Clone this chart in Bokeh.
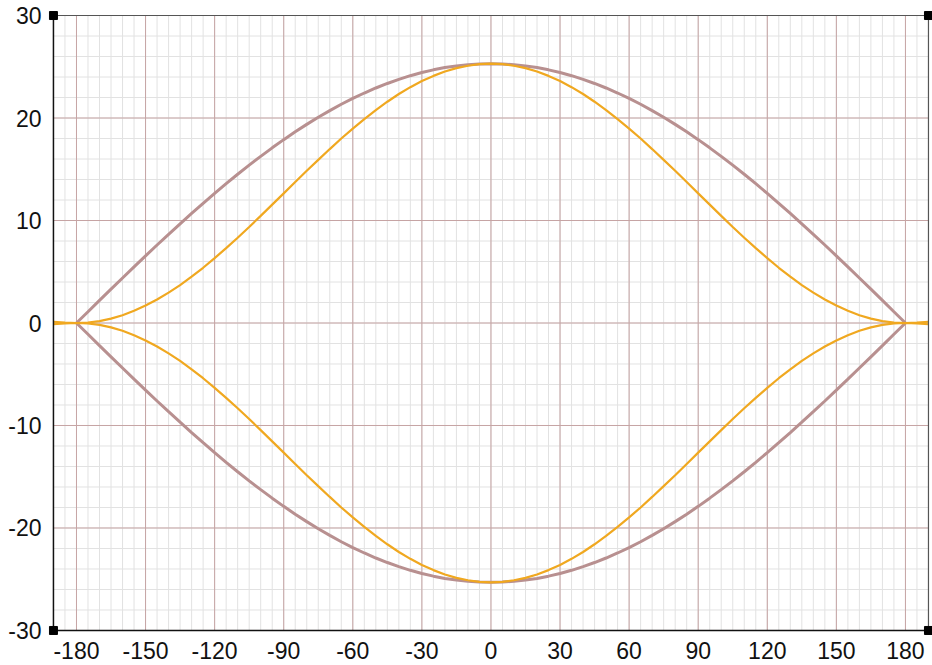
from bokeh.plotting import figure
from bokeh.models import SingleIntervalTicker, Range1d, PrintfTickFormatter
from bokeh.embed import file_html
from bokeh.resources import INLINE

# sample positions (degrees)
x_brown = list(range(-180, 185, 5))
x_orange = list(range(-190, 195, 5))

brown_upper = [0, 1.10, 2.21, 3.30, 4.39, 5.48, 6.55, 7.61, 8.65, 9.68, 10.69, 11.68, 12.65, 13.59, 14.51, 15.40,
               16.26, 17.09, 17.89, 18.65, 19.38, 20.07, 20.72, 21.34, 21.91, 22.44, 22.93, 23.37, 23.77, 24.13,
               24.44, 24.70, 24.92, 25.08, 25.20, 25.28, 25.30,
               25.28, 25.20, 25.08, 24.92, 24.70, 24.44, 24.13, 23.77, 23.37, 22.93, 22.44, 21.91, 21.34, 20.72,
               20.07, 19.38, 18.65, 17.89, 17.09, 16.26, 15.40, 14.51, 13.59, 12.65, 11.68, 10.69, 9.68, 8.65,
               7.61, 6.55, 5.48, 4.39, 3.30, 2.21, 1.10, 0]
brown_lower = [0, -1.10, -2.21, -3.30, -4.39, -5.48, -6.55, -7.61, -8.65, -9.68, -10.69, -11.68, -12.65, -13.59,
               -14.51, -15.40, -16.26, -17.09, -17.89, -18.65, -19.38, -20.07, -20.72, -21.34, -21.91, -22.44,
               -22.93, -23.37, -23.77, -24.13, -24.44, -24.70, -24.92, -25.08, -25.20, -25.28, -25.30,
               -25.28, -25.20, -25.08, -24.92, -24.70, -24.44, -24.13, -23.77, -23.37, -22.93, -22.44, -21.91,
               -21.34, -20.72, -20.07, -19.38, -18.65, -17.89, -17.09, -16.26, -15.40, -14.51, -13.59, -12.65,
               -11.68, -10.69, -9.68, -8.65, -7.61, -6.55, -5.48, -4.39, -3.30, -2.21, -1.10, 0]

orange_upper = [0.12, 0.04, 0, 0.05, 0.19, 0.43, 0.76, 1.19, 1.70, 2.29, 2.96, 3.70, 4.52, 5.39, 6.33, 7.30, 8.32,
                9.37, 10.45, 11.55, 12.65, 13.75, 14.85, 15.92, 16.97, 18.00, 18.97, 19.90, 20.78, 21.59, 22.34,
                23.01, 23.61, 24.11, 24.54, 24.87, 25.10, 25.26, 25.30,
                25.26, 25.10, 24.87, 24.54, 24.11, 23.61, 23.01, 22.34, 21.59, 20.78, 19.90, 18.97, 18.00, 16.97,
                15.92, 14.85, 13.75, 12.65, 11.55, 10.45, 9.37, 8.32, 7.30, 6.33, 5.39, 4.52, 3.70, 2.96, 2.29,
                1.70, 1.19, 0.76, 0.43, 0.19, 0.05, 0, 0.04, 0.12]
orange_lower = [-0.12, -0.04, 0, -0.05, -0.19, -0.43, -0.76, -1.19, -1.70, -2.29, -2.96, -3.70, -4.52, -5.39, -6.33,
                -7.30, -8.32, -9.37, -10.45, -11.55, -12.65, -13.75, -14.85, -15.92, -16.97, -18.00, -18.97, -19.90,
                -20.78, -21.59, -22.34, -23.01, -23.61, -24.11, -24.54, -24.87, -25.10, -25.26, -25.30,
                -25.26, -25.10, -24.87, -24.54, -24.11, -23.61, -23.01, -22.34, -21.59, -20.78, -19.90, -18.97,
                -18.00, -16.97, -15.92, -14.85, -13.75, -12.65, -11.55, -10.45, -9.37, -8.32, -7.30, -6.33, -5.39,
                -4.52, -3.70, -2.96, -2.29, -1.70, -1.19, -0.76, -0.43, -0.19, -0.05, 0, -0.04, -0.12]

# axes / grid
x_min, x_max = -190, 190
y_min, y_max = -30, 30
x_major = list(range(-180, 181, 30))
x_minor = list(range(-190, 191, 5))
y_major = list(range(-30, 31, 10))
y_minor = list(range(-30, 31, 2))

pad_x_left, pad_x_right, pad_y = 2.15, 1.75, 0.49

p = figure(width=932, height=665, output_backend="svg", toolbar_location=None,
           x_range=Range1d(x_min - pad_x_left, x_max + pad_x_right),
           y_range=Range1d(y_min - pad_y, y_max + pad_y),
           min_border_left=48, min_border_right=0, min_border_top=10, min_border_bottom=30)
p.background_fill_color = "white"
p.border_fill_color = "white"
p.outline_line_color = None
p.xgrid.visible = False
p.ygrid.visible = False

p.xaxis.ticker = SingleIntervalTicker(interval=30, num_minor_ticks=6)
p.yaxis.ticker = SingleIntervalTicker(interval=10, num_minor_ticks=5)
for ax in (p.xaxis, p.yaxis):
    ax.formatter = PrintfTickFormatter(format="%d")
    ax.major_tick_line_color = None
    ax.minor_tick_line_color = None
    ax.axis_line_color = None
    ax.major_label_text_font = "Liberation Sans"
    ax.major_label_text_font_size = "23px"
    ax.major_label_text_color = "#111111"
p.xaxis.major_label_standoff = 0
p.yaxis.major_label_standoff = 1

# grid lines (minor then major), bounded to the plot box
p.segment(x0=x_minor, x1=x_minor, y0=[y_min] * len(x_minor), y1=[y_max] * len(x_minor),
          line_color="#e2e2e2", line_width=1)
p.segment(x0=[x_min] * len(y_minor), x1=[x_max] * len(y_minor), y0=y_minor, y1=y_minor,
          line_color="#e2e2e2", line_width=1)
p.segment(x0=x_major, x1=x_major, y0=[y_min] * len(x_major), y1=[y_max] * len(x_major),
          line_color="#c6a4a4", line_width=1)
p.segment(x0=[x_min] * len(y_major), x1=[x_max] * len(y_major), y0=y_major, y1=y_major,
          line_color="#c6a4a4", line_width=1)

p.line(x_brown, brown_upper, line_color="#b89090", line_width=3)
p.line(x_brown, brown_lower, line_color="#b89090", line_width=3)
p.line(x_orange, orange_upper, line_color="#f0a820", line_width=2.2)
p.line(x_orange, orange_lower, line_color="#f0a820", line_width=2.2)

# plot box border
p.segment(x0=[x_min, x_min], x1=[x_min, x_max], y0=[y_min, y_min], y1=[y_max, y_min],
          line_color="#111111", line_width=1.5)
p.segment(x0=[x_min, x_max], x1=[x_max, x_max], y0=[y_max, y_min], y1=[y_max, y_max],
          line_color="#555555", line_width=1.2)

# corner handles
p.scatter([x_min, x_max, x_min, x_max], [y_max, y_max, y_min, y_min], marker="square", size=8,
          fill_color="black", line_color="black")

open("out.html", "w").write(file_html(p, INLINE))
